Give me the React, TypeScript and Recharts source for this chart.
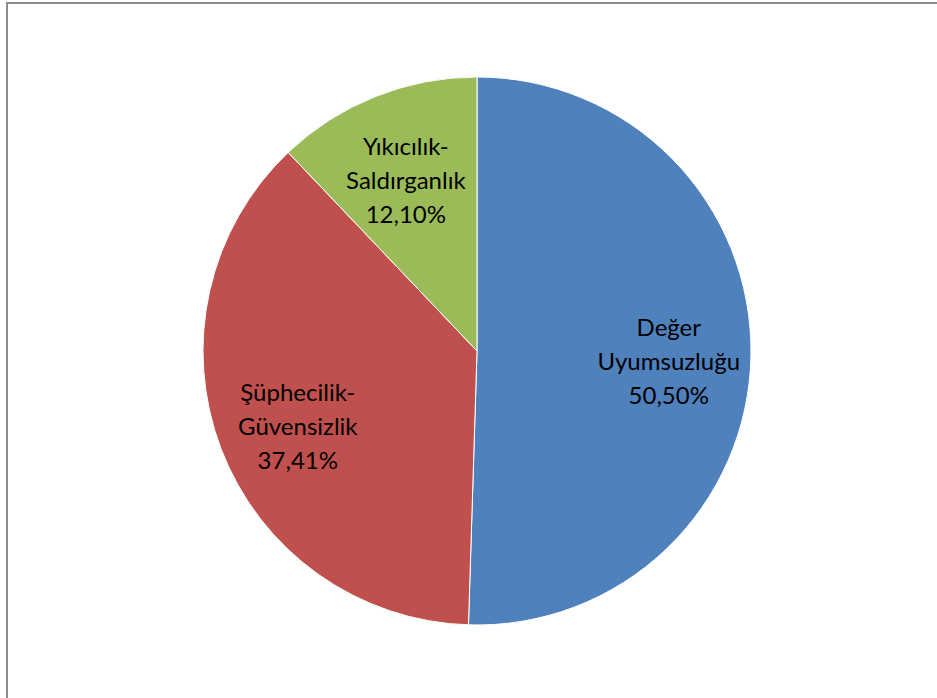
import React from 'react';
import { PieChart, Pie, Cell } from 'recharts';

const categories = ['Değer Uyumsuzluğu', 'Şüphecilik-Güvensizlik', 'Yıkıcılık-Saldırganlık'];
const shares = [50.5, 37.41, 12.1];
const colors = ['#4F81BD', '#C0504D', '#9BBB59'];

const RAD = Math.PI / 180;
const LINE_H = 34;

const splitName = (name: string) => name.split(/(?<=-)|\s/).filter(Boolean);
const fmt = (v: number) => v.toFixed(2).replace('.', ',') + '%';

const renderLabel = (props: any) => {
  const { cx, cy, midAngle, outerRadius, name, value } = props;
  const r = outerRadius * 0.7;
  const x = cx + r * Math.cos(-midAngle * RAD);
  const y = cy + r * Math.sin(-midAngle * RAD) + 6;
  const lines = [...splitName(name), fmt(value)];
  const start = -((lines.length - 1) / 2) * LINE_H;
  return (
    <text
      x={x}
      y={y}
      textAnchor="middle"
      dominantBaseline="central"
      fill="#000"
      style={{ fontFamily: 'Lato, "Open Sans", sans-serif', fontSize: 24 }}
    >
      {lines.map((ln, i) => (
        <tspan key={i} x={x} dy={i === 0 ? start : LINE_H}>
          {ln}
        </tspan>
      ))}
    </text>
  );
};

export default function App() {
  const data = categories.map((name, i) => ({ name, value: shares[i] }));
  return (
    <div style={{ position: 'absolute', left: 0, top: 0, width: 937, height: 698, overflow: 'hidden', background: '#fff' }}>
      <div
        style={{
          position: 'absolute',
          left: 6,
          top: 2,
          width: 1000,
          height: 800,
          border: '2px solid #8c8c8c',
          boxSizing: 'border-box',
        }}
      />
      <div style={{ position: 'absolute', left: 0, top: 0 }}>
        <PieChart width={937} height={698} margin={{ top: 0, right: 0, bottom: 0, left: 0 }}>
          <Pie
            data={data}
            dataKey="value"
            nameKey="name"
            cx={477}
            cy={351}
            outerRadius={274}
            startAngle={90}
            endAngle={-270}
            stroke="#ffffff"
            strokeWidth={1}
            label={renderLabel}
            labelLine={false}
            isAnimationActive={false}
          >
            {data.map((d, i) => (
              <Cell key={d.name} fill={colors[i]} />
            ))}
          </Pie>
        </PieChart>
      </div>
    </div>
  );
}
